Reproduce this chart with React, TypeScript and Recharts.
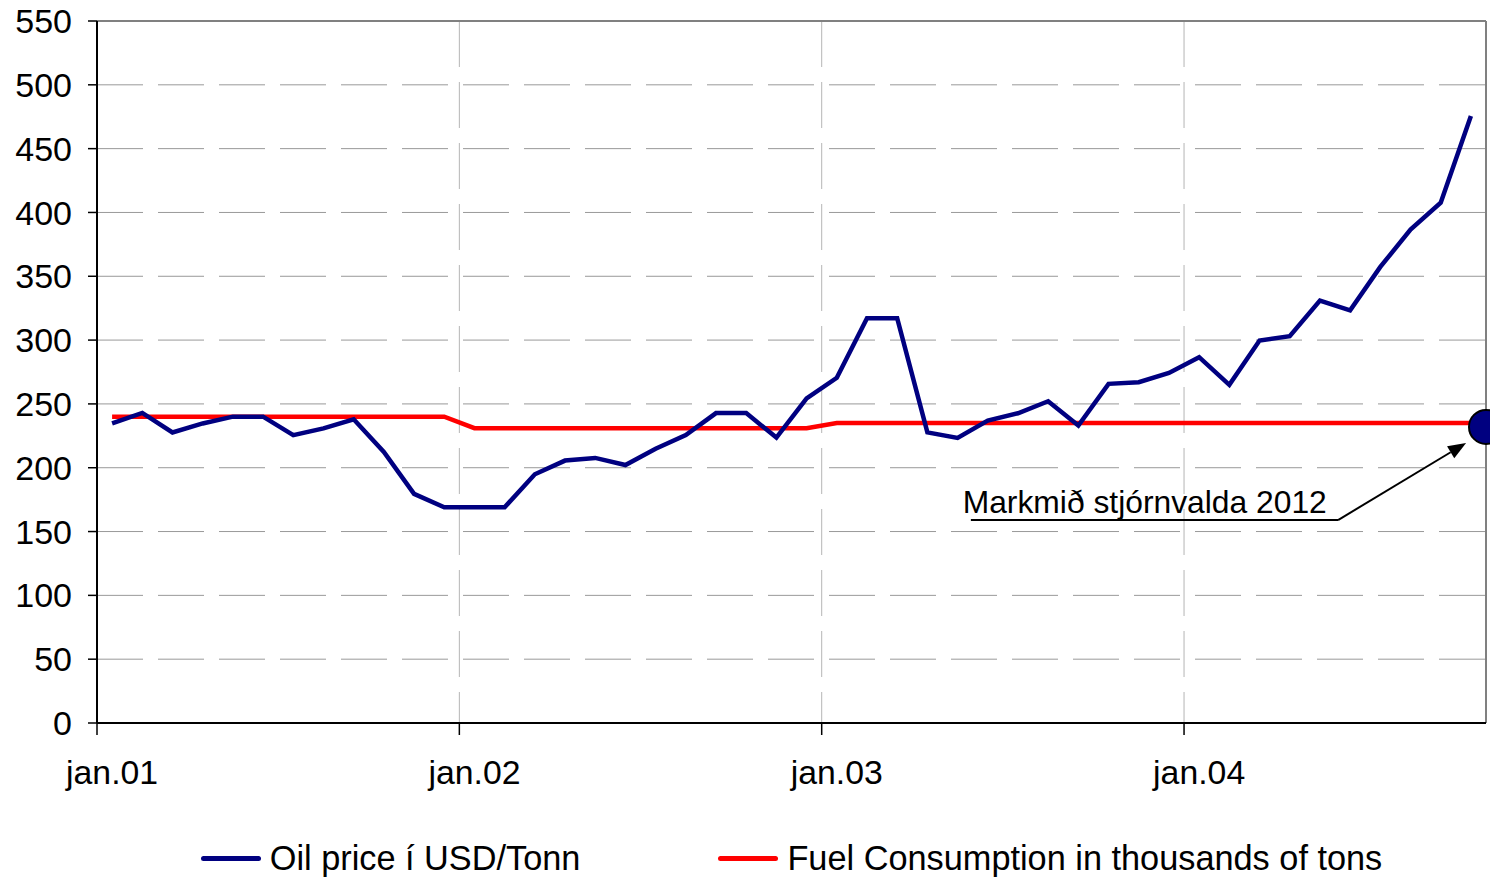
import { LineChart, Line, XAxis, YAxis, CartesianGrid, Legend, ReferenceLine, ReferenceDot } from 'recharts';

// mánaðarleg gögn jan.01 - okt.04
const oilPrice = [
  234.7, 242.9, 227.6, 234.7, 240, 240, 225.5, 230.8, 238, 212.4, 179.5, 169,
  169, 169, 194.9, 205.6, 207.7, 202.1, 214.9, 225.6, 242.8, 242.8, 223.6, 254.4,
  270.5, 317.2, 317.2, 227.7, 223.4, 236.9, 242.7, 252.1, 233, 265.7, 267, 274.3,
  286.6, 264.9, 299.6, 303, 331, 323.3, 357.3, 386.6, 407.7, 475.5,
];
const fuelConsumption = [
  240, 240, 240, 240, 240, 240, 240, 240, 240, 240, 240, 240,
  231, 231, 231, 231, 231, 231, 231, 231, 231, 231, 231, 231,
  235, 235, 235, 235, 235, 235, 235, 235, 235, 235, 235, 235,
  235, 235, 235, 235, 235, 235, 235, 235, 235, 235,
];
const yTicks = [0, 50, 100, 150, 200, 250, 300, 350, 400, 450, 500, 550];
const gridTicks = [-0.5, 11.5, 23.5, 35.5];
const labelTicks = [0, 12, 24, 36];
const tickLabels = ['jan.01', 'jan.02', 'jan.03', 'jan.04'];

const targetValue = 232;
const targetLabel = 'Markmið stjórnvalda 2012';

const series = [
  { key: 'oil', name: 'Oil price í USD/Tonn', color: '#000080' },
  { key: 'fuel', name: 'Fuel Consumption in thousands of tons', color: '#ff0000' },
];

const data = oilPrice.map((v, i) => ({ i, oil: v, fuel: fuelConsumption[i] }));

const FONT = '"Liberation Sans", Arial, sans-serif';
const X_DOMAIN: [number, number] = [-0.5, 45.5];

function ArrowShape(props: any) {
  const { x1, y1, x2, y2 } = props;
  const ang = Math.atan2(y2 - y1, x2 - x1);
  const len = 18;
  const half = 7;
  const bx = x2 - len * Math.cos(ang);
  const by = y2 - len * Math.sin(ang);
  const p1 = `${bx + half * Math.sin(ang)},${by - half * Math.cos(ang)}`;
  const p2 = `${bx - half * Math.sin(ang)},${by + half * Math.cos(ang)}`;
  return (
    <g>
      <line x1={x1} y1={y1} x2={bx} y2={by} stroke="#000" strokeWidth={2} />
      <polygon points={`${x2},${y2} ${p1} ${p2}`} fill="#000" />
    </g>
  );
}

function AnnotationText(props: any) {
  return (
    <text x={props.cx} y={props.cy} fontSize={31.8} fontFamily={FONT} fill="#000">
      {targetLabel}
    </text>
  );
}

const renderLegend = () => (
  <div
    style={{
      display: 'flex',
      justifyContent: 'center',
      alignItems: 'center',
      height: 83,
      paddingTop: 44,
      boxSizing: 'border-box',
      gap: 138,
      fontFamily: FONT,
    }}
  >
    {series.map((s) => (
      <div key={s.key} style={{ display: 'flex', alignItems: 'center' }}>
        <span
          style={{
            display: 'inline-block',
            width: 60,
            height: 5,
            borderRadius: 3,
            background: s.color,
            marginRight: 9,
          }}
        />
        <span style={{ fontSize: 34.3, lineHeight: 1, color: '#000', whiteSpace: 'nowrap' }}>{s.name}</span>
      </div>
    ))}
  </div>
);

export default function App() {
  return (
    <div>
      <style>{'body{margin:0;background:#fff}'}</style>
      <LineChart width={1490} height={878} data={data} margin={{ top: 21, right: 4, bottom: 0, left: 0 }}>
        <CartesianGrid xAxisId="grid" vertical={false} stroke="#999" strokeDasharray="46 15" />
        <CartesianGrid xAxisId="grid" horizontal={false} stroke="#b5b5b5" strokeDasharray="46 15" />
        <ReferenceLine xAxisId="grid" y={550} stroke="#808080" strokeWidth={2} />
        <ReferenceLine xAxisId="grid" x={45.5} stroke="#808080" strokeWidth={2} />

        <XAxis
          xAxisId="grid"
          dataKey="i"
          type="number"
          domain={X_DOMAIN}
          allowDataOverflow
          ticks={gridTicks}
          interval={0}
          height={12}
          tickSize={12}
          tickFormatter={() => ''}
          axisLine={{ stroke: '#000', strokeWidth: 2 }}
          tickLine={{ stroke: '#000', strokeWidth: 1.5 }}
        />
        <XAxis
          xAxisId="labels"
          dataKey="i"
          type="number"
          domain={X_DOMAIN}
          allowDataOverflow
          ticks={labelTicks}
          interval={0}
          height={60}
          tickSize={0}
          tickMargin={25}
          axisLine={false}
          tickLine={false}
          tickFormatter={(v: number) => tickLabels[labelTicks.indexOf(v)] ?? ''}
          tick={{ fill: '#000', fontSize: 33.8, fontFamily: FONT }}
        />
        <YAxis
          type="number"
          domain={[0, 550]}
          ticks={yTicks}
          interval={0}
          width={97}
          tickSize={9}
          tickMargin={16}
          axisLine={{ stroke: '#000', strokeWidth: 2 }}
          tickLine={{ stroke: '#000', strokeWidth: 1.5 }}
          tick={{ fill: '#000', fontSize: 34, fontFamily: FONT }}
        />

        <Legend verticalAlign="bottom" height={83} content={renderLegend} wrapperStyle={{ left: 97, width: 1389, bottom: 0, height: 83 }} />

        <Line
          xAxisId="labels"
          dataKey="fuel"
          name={series[1].name}
          type="linear"
          stroke={series[1].color}
          strokeWidth={4.5}
          dot={false}
          activeDot={false}
          isAnimationActive={false}
        />
        <Line
          xAxisId="grid"
          dataKey="oil"
          name={series[0].name}
          type="linear"
          stroke={series[0].color}
          strokeWidth={4.5}
          dot={false}
          activeDot={false}
          isAnimationActive={false}
        />

        {/* textaskýring með ör að markmiðinu */}
        <ReferenceLine
          xAxisId="grid"
          segment={[{ x: 28.44, y: 159 }, { x: 40.6, y: 159 }]}
          stroke="#000"
          strokeWidth={2}
        />
        <ReferenceLine
          xAxisId="grid"
          segment={[{ x: 40.6, y: 159 }, { x: 44.84, y: 219.4 }]}
          shape={ArrowShape}
        />
        <ReferenceDot xAxisId="grid" x={28.17} y={164.3} r={0} shape={AnnotationText} />
        <ReferenceDot
          xAxisId="grid"
          x={45.5}
          y={targetValue}
          r={17}
          fill="#000080"
          stroke="#000"
          strokeWidth={2}
          ifOverflow="visible"
        />
      </LineChart>
    </div>
  );
}
